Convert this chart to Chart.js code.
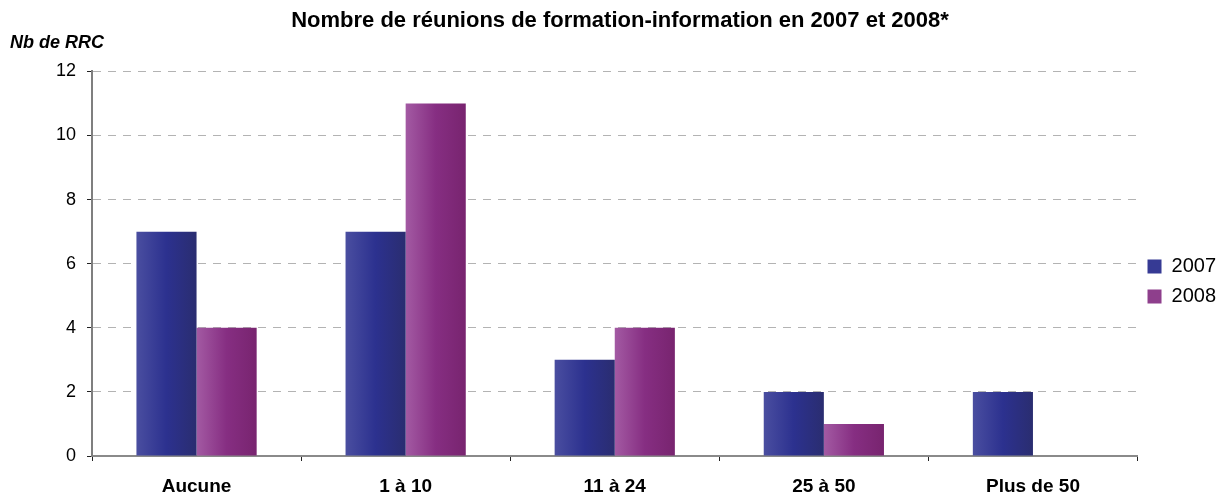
<!DOCTYPE html>
<html lang="fr">
<head>
<meta charset="utf-8">
<title>Nombre de réunions de formation-information</title>
<script src="https://cdn.jsdelivr.net/npm/chart.js@4/dist/chart.umd.min.js"></script>
<style>
  html, body { margin: 0; padding: 0; background: #fff; }
  #wrap { width: 1219px; height: 495px; position: relative; }
</style>
</head>
<body>
<div id="wrap"><canvas id="chart"></canvas></div>
<script>
// --- data ---
const CATEGORIES = ["Aucune", "1 à 10", "11 à 24", "25 à 50", "Plus de 50"];
const SERIES_2007 = [7, 7, 3, 2, 2];
const SERIES_2008 = [4, 11, 4, 1, 0];
const Y_MIN = 0, Y_MAX = 12, Y_STEP = 2;

const TITLE = "Nombre de réunions de formation-information en 2007 et 2008*";
const Y_LABEL = "Nb de RRC";
const FONT = "'Liberation Sans', Arial, sans-serif";

// --- styles ---
const CAT_PCT = 0.575;
const STOPS_2007 = ["#4a4ea0", "#2c318f", "#2a2d70"];
const STOPS_2008 = ["#a35aa3", "#862e82", "#78246f"];

// horizontal gradient across each bar, positioned from the x scale
function barFill(stops) {
  return function (ctx) {
    const chart = ctx.chart;
    const xs = chart.scales.x;
    if (!xs || ctx.type !== "data") return stops[1];
    const groupW = (xs.width / CATEGORIES.length) * CAT_PCT;
    const left = xs.getPixelForValue(ctx.dataIndex) - groupW / 2 + ctx.datasetIndex * groupW / 2;
    const g = chart.ctx.createLinearGradient(left, 0, left + groupW / 2, 0);
    g.addColorStop(0, stops[0]);
    g.addColorStop(0.5, stops[1]);
    g.addColorStop(1, stops[2]);
    return g;
  };
}

// small axis caption above the y axis
const yCaption = {
  id: "yCaption",
  afterDraw(chart) {
    const c = chart.ctx;
    c.save();
    c.font = "italic bold 18px " + FONT;
    c.fillStyle = "#000";
    c.textAlign = "left";
    c.textBaseline = "middle";
    c.fillText(Y_LABEL, 10, chart.scales.y.top - 28);
    c.restore();
  },
};

new Chart(document.getElementById("chart"), {
  type: "bar",
  data: {
    labels: CATEGORIES,
    datasets: [
      { label: "2007", data: SERIES_2007, backgroundColor: barFill(STOPS_2007), borderWidth: 0, legendColor: "#363a94" },
      { label: "2008", data: SERIES_2008, backgroundColor: barFill(STOPS_2008), borderWidth: 0, legendColor: "#8e3f8c" },
    ],
  },
  options: {
    responsive: true,
    maintainAspectRatio: false,
    animation: false,
    layout: { padding: { left: 14, right: -7, top: 0, bottom: 0 } },
    datasets: { bar: { categoryPercentage: CAT_PCT, barPercentage: 1 } },
    scales: {
      x: {
        afterFit: (s) => { s.height = 39; },
        grid: { display: true, drawOnChartArea: false, drawTicks: true, tickLength: 5, tickColor: "#222", offset: true },
        border: { color: "#8a8a8a", width: 2 },
        ticks: { color: "#000", padding: 14, font: { family: FONT, size: 19, weight: "bold" } },
      },
      y: {
        min: Y_MIN,
        max: Y_MAX,
        afterFit: (s) => { s.width = 78; },
        grid: { color: "#b3b3b3", lineWidth: 1, tickLength: 5, tickColor: "#222", drawTicks: true },
        border: { color: "#7f7f7f", width: 2, dash: [8, 7] },
        ticks: { stepSize: Y_STEP, color: "#000", padding: 11, font: { family: FONT, size: 18 } },
      },
    },
    plugins: {
      title: {
        display: true,
        text: TITLE,
        color: "#000",
        font: { family: FONT, size: 22, weight: "bold" },
        padding: { top: 8, bottom: 37 },
      },
      legend: {
        position: "right",
        align: "center",
        title: { display: true, text: "", font: { size: 1 }, padding: { top: 67, bottom: 0 } },
        labels: {
          color: "#000",
          boxWidth: 14,
          boxHeight: 14,
          padding: 10,
          font: { family: FONT, size: 20 },
          generateLabels: (chart) =>
            chart.data.datasets.map((d, i) => ({
              text: d.label,
              fillStyle: d.legendColor,
              strokeStyle: d.legendColor,
              lineWidth: 0,
              hidden: false,
              datasetIndex: i,
              fontColor: "#000",
            })),
        },
      },
      tooltip: { enabled: false },
    },
  },
  plugins: [yCaption],
});
</script>
</body>
</html>
